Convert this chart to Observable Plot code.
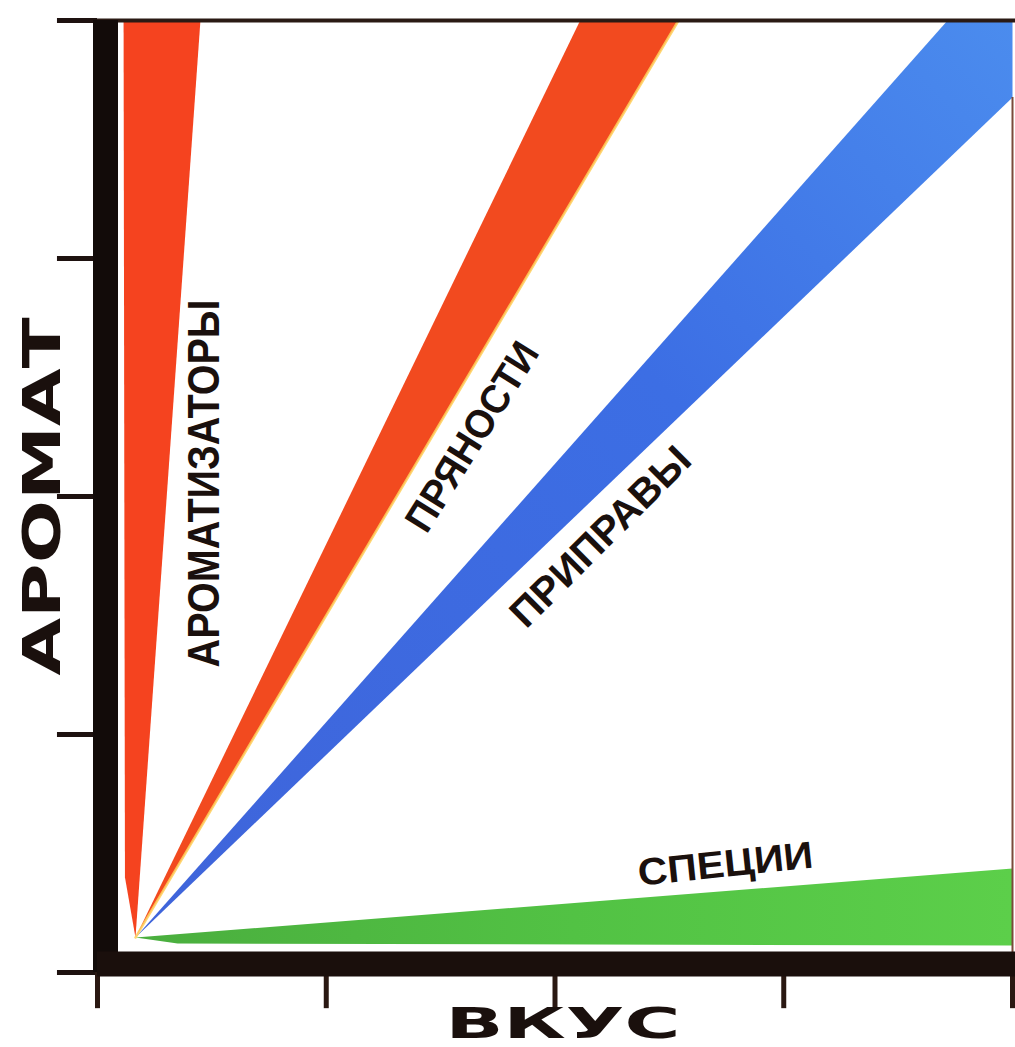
<!DOCTYPE html>
<html><head><meta charset="utf-8">
<script src="https://cdn.jsdelivr.net/npm/d3@7"></script>
<script src="https://cdn.jsdelivr.net/npm/@observablehq/plot@0.6"></script>
<style>html,body{margin:0;padding:0;background:#fff}</style>
</head><body><div id="chart"></div>
<script>
// Categories (wedges) and their vertices in data units (ВКУС on x, АРОМАТ on y)
const bands = ["АРОМАТИЗАТОРЫ", "ПРЯНОСТИ", "ПРИПРАВЫ", "СПЕЦИИ"];
const bandX = [
  [0.166, 0.12, 0.114, 0.45],
  [0.166, 2.11, 2.54],
  [0.166, 3.716, 4, 4],
  [0.166, 4, 4, 0.35]
];
const bandY = [
  [0.147, 0.4, 4, 4],
  [0.147, 4, 4],
  [0.147, 4, 4, 3.676],
  [0.147, 0.437, 0.113, 0.122]
];
// Label anchors (data units) and orientations
const labelX = [0.47, 1.64, 2.2, 2.745];
const labelY = [2.055, 2.25, 1.83, 0.454];
const labelAngle = [-90, -58, -45, -6];
// Axis ticks and titles
const xTicks = [0, 1, 2, 3, 4];
const yTicks = [0, 1, 2, 3, 4];
const xTitle = "ВКУС";
const yTitle = "АРОМАТ";

// Styles (kept apart from data)
const bandFill = ["#f5431f", "#f24a1f", "url(#gBlue)", "url(#gGreen)"];
const labelSize = [44, 40, 40, 38];
const fit = {"АРОМАТИЗАТОРЫ": 368, "ПРЯНОСТИ": 215, "ПРИПРАВЫ": 237, "СПЕЦИИ": 176, "ВКУС": 235, "АРОМАТ": 358};
const ink = "#1a100d";

const rows = bands.flatMap((b, i) => bandX[i].map((x, j) => ({band: b, x, y: bandY[i][j]})));

const marks = [];
bands.forEach((b, i) => {
  marks.push(Plot.line(rows.filter(d => d.band === b), {x: "x", y: "y", fill: bandFill[i], stroke: "none"}));
});
// thin yellow fringe on the right edge of ПРЯНОСТИ
const pr = rows.filter(d => d.band === bands[1]);
marks.push(Plot.line([pr[0], pr[2]], {x: "x", y: "y", stroke: "#ffcf5a", strokeWidth: 2.5, strokeOpacity: 0.85}));

// frame lines and ticks
marks.push(Plot.ruleY([yTicks[yTicks.length - 1]], {x1: 0, x2: 4.02, stroke: "#2a1a14", strokeWidth: 4}));
marks.push(Plot.ruleX([xTicks[xTicks.length - 1]], {y1: 0, y2: 3.676, stroke: "#7a4a3a", strokeWidth: 2}));
marks.push(Plot.ruleY(yTicks, {x1: -0.175, x2: 0, stroke: "#1e1210", strokeWidth: 5}));
marks.push(Plot.ruleX(xTicks, {y1: 0, y2: -0.152, stroke: "#2a1812", strokeWidth: 5}));
// heavy axis bars
marks.push(Plot.ruleX([0], {y1: 0, y2: 4, dx: 8, stroke: "#120b09", strokeWidth: 25}));
marks.push(Plot.ruleY([0], {x1: 0, x2: 4.02, dy: -8.5, stroke: "#1a0f0c", strokeWidth: 25}));

// wedge labels
bands.forEach((b, i) => {
  marks.push(Plot.text([b], {
    x: () => labelX[i], y: () => labelY[i], text: d => d, rotate: labelAngle[i],
    fontSize: labelSize[i], fontWeight: "bold", fontFamily: "Liberation Sans, Arial, sans-serif",
    fill: ink, textAnchor: "middle", lineAnchor: "middle"
  }));
});
// axis titles
marks.push(Plot.text([xTitle], {frameAnchor: "bottom", dx: 8, dy: 52, text: d => d, fontSize: 43, fontWeight: "900",
  fontFamily: "DejaVu Sans, sans-serif", fill: ink, textAnchor: "middle", lineAnchor: "middle"}));
marks.push(Plot.text([yTitle], {frameAnchor: "left", dx: -54, rotate: -90, text: d => d, fontSize: 51, fontWeight: "900",
  fontFamily: "DejaVu Sans, sans-serif", fill: ink, textAnchor: "middle", lineAnchor: "middle"}));

const svg = Plot.plot({
  width: 1015, height: 1047,
  marginLeft: 97, marginRight: 3, marginTop: 20, marginBottom: 75,
  x: {domain: [0, 4], axis: null},
  y: {domain: [0, 4], axis: null},
  style: {background: "#fff", overflow: "visible"},
  marks
});

// gradients
const defs = d3.select(svg).insert("defs", ":first-child");
const gb = defs.append("linearGradient").attr("id", "gBlue").attr("x1", 0).attr("y1", 1).attr("x2", 1).attr("y2", 0);
gb.append("stop").attr("offset", 0).attr("stop-color", "#3f64da");
gb.append("stop").attr("offset", 0.6).attr("stop-color", "#3c6ee4");
gb.append("stop").attr("offset", 1).attr("stop-color", "#4b8cee");
const gg = defs.append("linearGradient").attr("id", "gGreen").attr("x1", 0).attr("y1", 0).attr("x2", 1).attr("y2", 0);
gg.append("stop").attr("offset", 0).attr("stop-color", "#4aae3e");
gg.append("stop").attr("offset", 0.5).attr("stop-color", "#52c244");
gg.append("stop").attr("offset", 1).attr("stop-color", "#5ccf4a");

// stretch text to reference lengths
d3.select(svg).selectAll("text").each(function () {
  const t = this.textContent;
  if (fit[t]) {
    this.setAttribute("textLength", fit[t]);
    this.setAttribute("lengthAdjust", "spacingAndGlyphs");
  }
});

document.getElementById("chart").appendChild(svg);
</script>
</body></html>
